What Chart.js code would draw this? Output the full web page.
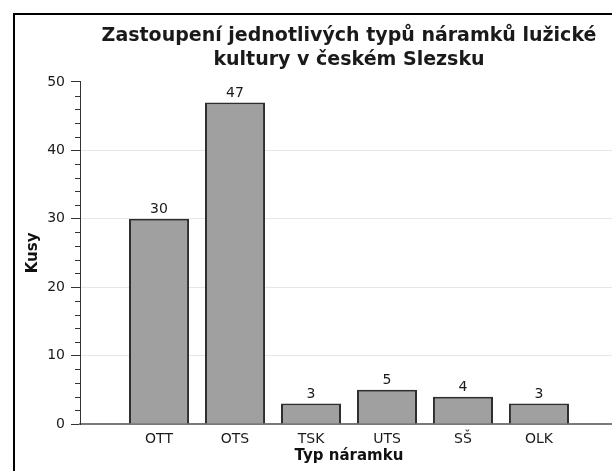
<!DOCTYPE html>
<html>
<head>
<meta charset="utf-8">
<script src="https://cdn.jsdelivr.net/npm/chart.js@4.4.0/dist/chart.umd.min.js"></script>
<style>
    html, body { margin: 0; padding: 0; background: #fff; overflow: hidden; }
    #wrap { position: relative; width: 612px; height: 471px; overflow: hidden; }
    #frame { position: absolute; left: 13px; top: 13px; width: 700px; height: 600px;
             border-left: 2px solid #000; border-top: 2px solid #000; }
    #myChart { position: absolute; left: 0; top: 0; }
</style>
</head>
<body>
<div id="wrap">
    <div id="frame"></div>
    <canvas id="myChart" width="625" height="471"></canvas>
</div>
<script>
let categories = ['OTT', 'OTS', 'TSK', 'UTS', 'SŠ', 'OLK'];
let counts = [30, 47, 3, 5, 4, 3];
let titleLines = ['Zastoupení jednotlivých typů náramků lužické', 'kultury v českém Slezsku'];
let xTitle = 'Typ náramku';
let yTitle = 'Kusy';

let points = [];
for (let i = 0; i < counts.length; i++) {
    points.push({ x: i, y: counts[i] });
}

const minorTicks = {
    id: 'minorTicks',
    afterDraw(chart) {
        const y = chart.scales.y;
        const ctx = chart.ctx;
        ctx.save();
        ctx.strokeStyle = '#333';
        ctx.lineWidth = 1;
        y.ticks.forEach(t => {
            if (t.value % 10 !== 0) {
                const py = Math.round(y.getPixelForValue(t.value)) + 0.5;
                ctx.beginPath();
                ctx.moveTo(y.right - 5, py);
                ctx.lineTo(y.right, py);
                ctx.stroke();
            }
        });
        ctx.restore();
    }
};

const valueLabels = {
    id: 'valueLabels',
    afterDatasetsDraw(chart) {
        const ctx = chart.ctx;
        const meta = chart.getDatasetMeta(0);
        ctx.save();
        ctx.fillStyle = '#1a1a1a';
        ctx.font = '14px "DejaVu Sans"';
        ctx.textAlign = 'center';
        ctx.textBaseline = 'bottom';
        meta.data.forEach((bar, i) => {
            ctx.fillText(String(counts[i]), bar.x, bar.y - 2);
        });
        ctx.restore();
    }
};

const ctx = document.getElementById('myChart');

new Chart(ctx, {
    type: 'bar',
    data: {
        datasets: [{
            data: points,
            backgroundColor: '#a0a0a0',
            borderColor: '#2e2e2e',
            borderWidth: 2,
            barPercentage: 0.79,
            categoryPercentage: 1
        }]
    },
    options: {
        responsive: false,
        animation: false,
        devicePixelRatio: 1,
        layout: { padding: { left: 14, right: 7, top: 0, bottom: 0 } },
        scales: {
            x: {
                type: 'linear',
                offset: false,
                min: -1.04,
                max: 6.04,
                afterFit(scale) { scale.height = 47; },
                afterBuildTicks(scale) {
                    scale.ticks = categories.map((c, i) => ({ value: i }));
                },
                ticks: {
                    stepSize: 1,
                    autoSkip: false,
                    maxRotation: 0,
                    padding: 7,
                    color: '#1a1a1a',
                    font: { family: 'DejaVu Sans', size: 14 },
                    callback: v => categories[v]
                },
                grid: { display: true, drawOnChartArea: false, drawTicks: false },
                border: { color: '#7a7a7a', width: 2 },
                title: {
                    display: true,
                    text: xTitle,
                    color: '#111',
                    font: { family: 'DejaVu Sans', size: 15, weight: 'bold' },
                    padding: { top: 0, bottom: 6 }
                }
            },
            y: {
                min: 0,
                max: 50,
                afterFit(scale) { scale.width = 66; },
                ticks: {
                    stepSize: 2,
                    autoSkip: false,
                    padding: 6,
                    color: '#1a1a1a',
                    font: { family: 'DejaVu Sans', size: 14 },
                    callback: v => (v % 10 === 0 ? v : '')
                },
                grid: {
                    tickLength: 9,
                    color: c => (c.tick && c.tick.value % 10 === 0 && c.tick.value > 0 && c.tick.value < 50) ? '#e6e6e6' : 'rgba(0,0,0,0)',
                    tickColor: c => (c.tick && c.tick.value % 10 === 0) ? '#333' : 'rgba(0,0,0,0)'
                },
                border: { color: '#333', width: 1 },
                title: {
                    display: true,
                    text: yTitle,
                    color: '#111',
                    font: { family: 'DejaVu Sans', size: 15, weight: 'bold' },
                    padding: { top: 10, bottom: 0 }
                }
            }
        },
        plugins: {
            legend: { display: false },
            tooltip: { enabled: false },
            title: {
                display: true,
                fullSize: false,
                text: titleLines,
                color: '#1a1a1a',
                font: { family: 'DejaVu Sans', size: 19, weight: 'bold', lineHeight: 1.26 },
                padding: { top: 24, bottom: 10 }
            }
        }
    },
    plugins: [minorTicks, valueLabels]
});
</script>
</body>
</html>
